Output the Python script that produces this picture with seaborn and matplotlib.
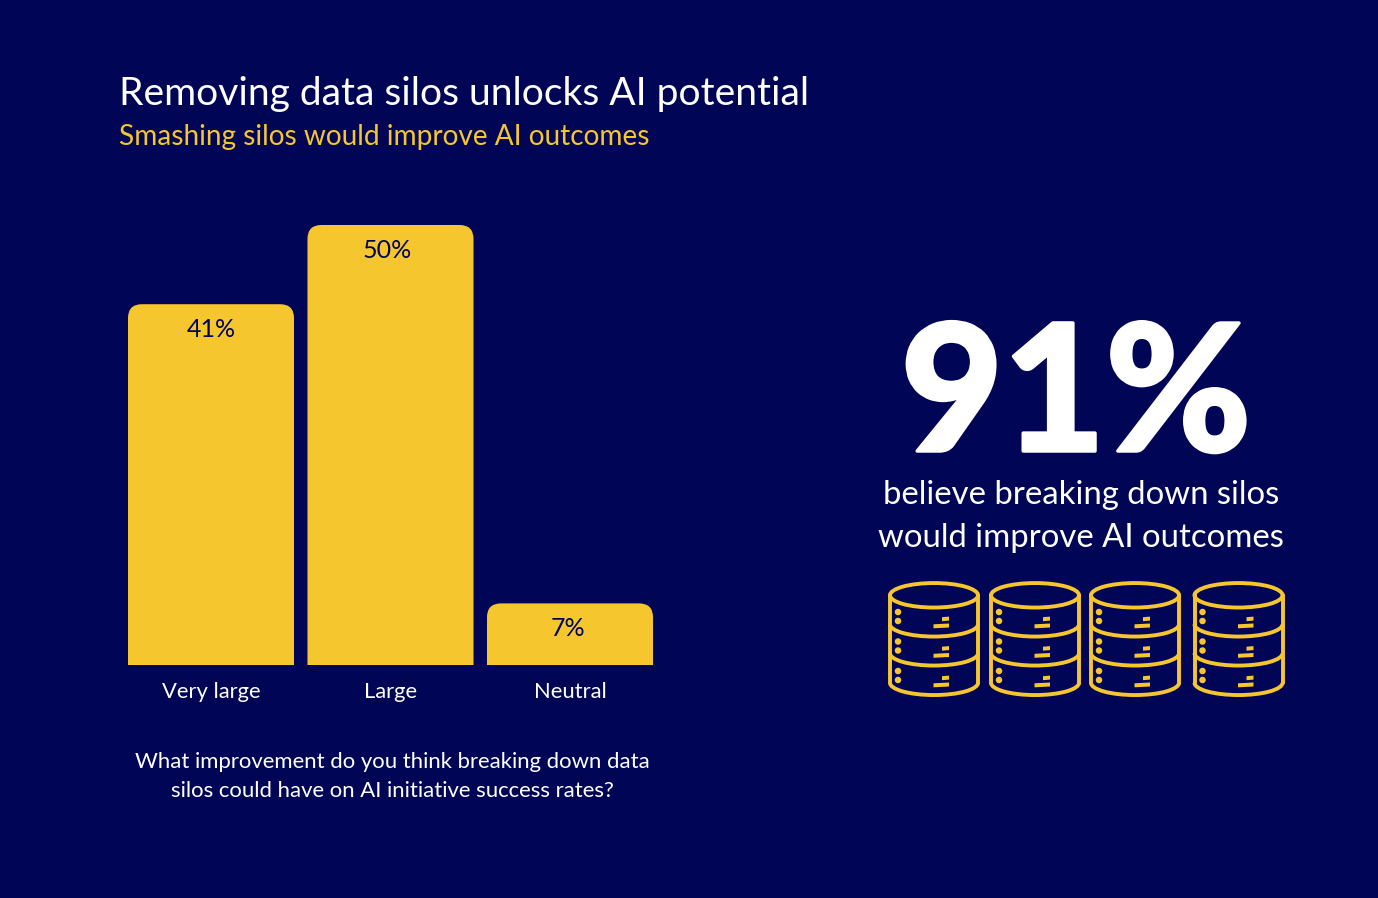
import matplotlib
matplotlib.use("Agg")
import matplotlib.pyplot as plt
import matplotlib.patheffects as pe
import seaborn as sns
import pandas as pd
from matplotlib.patches import Ellipse, Arc, Polygon, FancyBboxPatch

# dati
categories = ["Very large", "Large", "Neutral"]
values = [41, 50, 7]
value_labels = ["41%", "50%", "7%"]
title = "Removing data silos unlocks AI potential"
subtitle = "Smashing silos would improve AI outcomes"
question = "What improvement do you think breaking down data\nsilos could have on AI initiative success rates?"
big_number = "91%"
big_caption = "believe breaking down silos\nwould improve AI outcomes"

NAVY = "#000556"
YELLOW = "#F6C62E"
W, H = 1378, 898

sns.set_theme(style="white")
plt.rcParams['font.family'] = ['Lato', 'DejaVu Sans']
plt.rcParams['figure.dpi'] = 100

fig = plt.figure(figsize=(W / 100, H / 100), facecolor=NAVY)

# asse delle barre
ax = fig.add_axes([121.25 / W, 1 - 665 / H, 538.5 / W, 440 / H])
df = pd.DataFrame({"category": categories, "value": values})
sns.barplot(data=df, x="category", y="value", color=YELLOW, saturation=1, width=0.925, linewidth=0, ax=ax)
ax.set_xlim(-0.5, 2.5)
ax.set_ylim(0, 50)
ax.set_facecolor(NAVY)
ax.set_xlabel("")
ax.set_ylabel("")
ax.set_yticks([])
ax.tick_params(axis="x", length=0, pad=12, labelsize=15.85, labelcolor="white")
sns.despine(ax=ax, left=True, bottom=True)

# angoli arrotondati in alto: le barre vengono ritagliate
px_x, px_y = 179.5, 8.8  # pixel per unita
label_shift = [0, -3, -2]  # le etichette non sono proprio centrate
for bar, label, dx in zip(ax.patches, value_labels, label_shift):
    x0, w = bar.get_x(), bar.get_width()
    h = bar.get_height()
    clip = FancyBboxPatch((x0, -20), w, h + 20, boxstyle="round,pad=0,rounding_size=%f" % (14 / px_x),
                          mutation_aspect=px_x / px_y, transform=ax.transData)
    bar.set_clip_path(clip)
    ax.text(x0 + w / 2 + dx / px_x, h - 25 / px_y, label, ha="center", va="center", color=NAVY, fontsize=18)

# testi
fig.text(119 / W, 1 - 94.5 / H, title, color="white", fontsize=28.1, va="center")
fig.text(119 / W, 1 - 136.5 / H, subtitle, color=YELLOW, fontsize=20.2, va="center")
fig.text(392 / W, 1 - 776.5 / H, question, color="white", fontsize=15.9, ha="center", va="center", linespacing=1.53)
num = fig.text(1076 / W, 1 - 400 / H, big_number, color="white", fontsize=127, ha="center", va="center", fontweight="black")
num.set_path_effects([pe.withStroke(linewidth=2.5, foreground="white")])
fig.text(1081 / W, 1 - 516.5 / H, big_caption, color="white", fontsize=23.7, ha="center", va="center", linespacing=1.52)

# icone dei database, asse in pixel
overlay = fig.add_axes([0, 0, 1, 1], facecolor="none")
overlay.set_xlim(0, W)
overlay.set_ylim(H, 0)
overlay.axis("off")


def draw_database(x, col=YELLOW, lw=2.8):
    w = 88
    cx = x + w / 2
    overlay.add_patch(Ellipse((cx, 595.3), w, 24.5, fill=False, ec=col, lw=lw))
    overlay.plot([x, x], [595, 683], color=col, lw=lw, solid_capstyle="round")
    overlay.plot([x + w, x + w], [595, 683], color=col, lw=lw, solid_capstyle="round")
    for y in [624.3, 653.3, 682.8]:
        overlay.add_patch(Arc((cx, y), w, 24.5, theta1=0, theta2=180, ec=col, lw=lw))
    for y in [0, 29.5, 59]:
        for dy in [612, 621]:
            overlay.add_patch(Ellipse((x + 8, dy + y), 6.5, 6.5, fc=col, ec="none"))
        # le due lineette sono leggermente inclinate
        overlay.add_patch(Polygon([(x + 52, 617.2 + y), (x + 59, 616.6 + y), (x + 59, 620.6 + y), (x + 52, 621.2 + y)], fc=col, ec="none"))
        overlay.add_patch(Polygon([(x + 43.5, 624.3 + y), (x + 59, 623.5 + y), (x + 59, 627.5 + y), (x + 43.5, 628.3 + y)], fc=col, ec="none"))


for icon_x in [890, 991, 1091, 1194.5]:
    draw_database(icon_x)

fig.savefig("out.png", dpi=100, facecolor=NAVY)
